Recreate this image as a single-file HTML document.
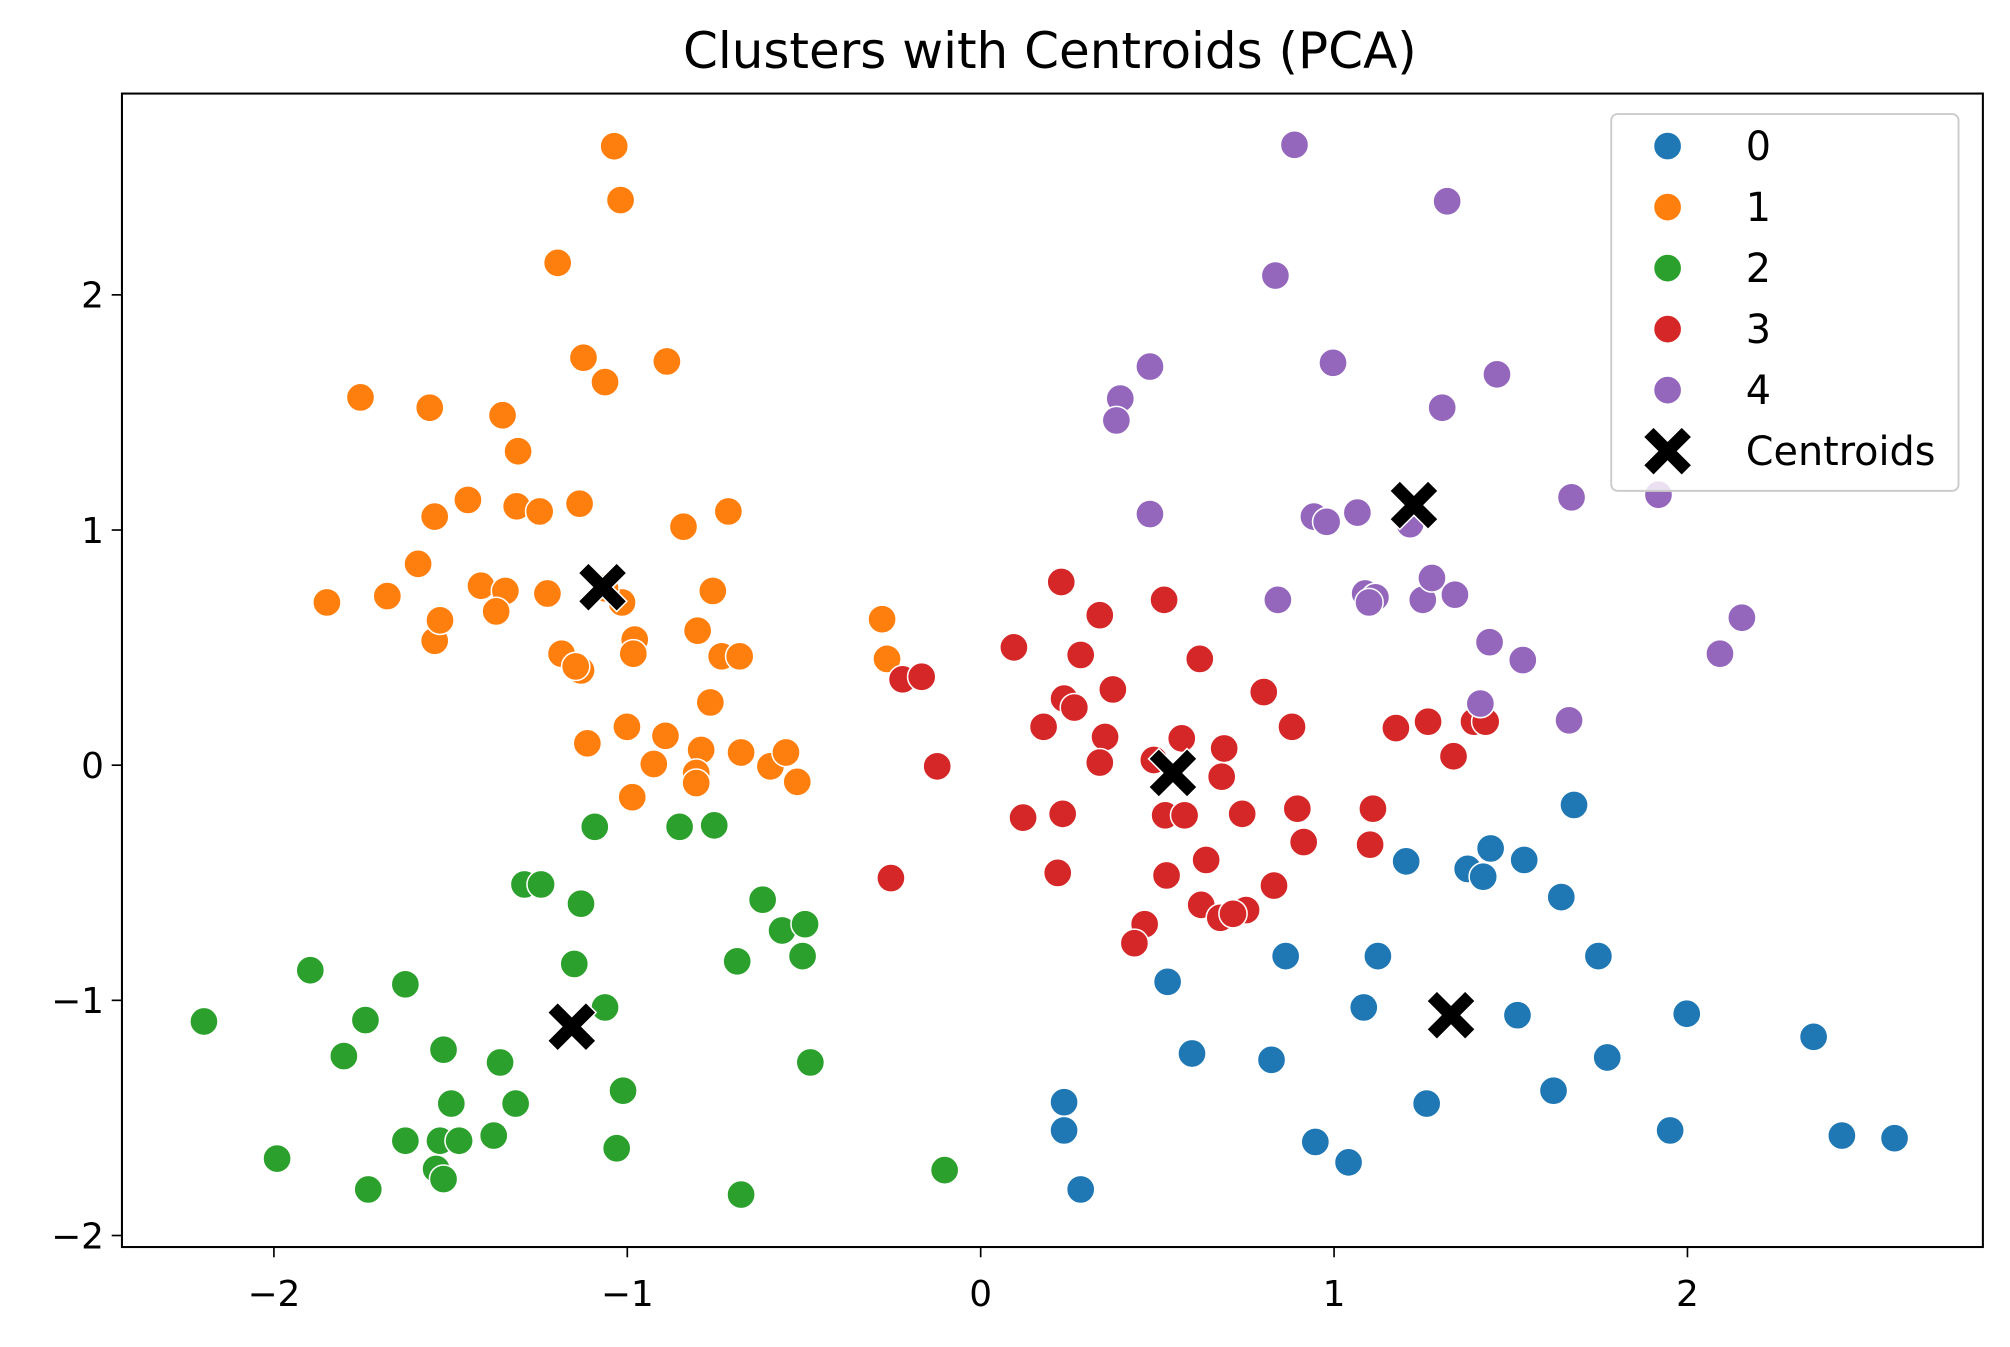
<!DOCTYPE html>
<html><head><meta charset="utf-8"><style>
html,body{margin:0;padding:0;background:#fff}
svg{display:block}
text{font-family:"DejaVu Sans","Liberation Sans",sans-serif;fill:#000}
</style></head><body>
<svg id="chart" width="2010" height="1347" viewBox="0 0 1568 1051" xmlns="http://www.w3.org/2000/svg">
<rect x="0" y="0" width="1568" height="1051" fill="#fff"/>
<text x="819" y="53" font-size="39" text-anchor="middle">Clusters with Centroids (PCA)</text>
<g id="marks"></g>
<g id="axes"></g>
<g id="legend"></g>
</svg>
<script>
const c0x=[1.679,1.204,1.378,1.422,1.443,1.538,1.643,1.748,1.124,0.863,0.529,1.084,1.519,1.998,2.357,0.598,0.823,1.773,0.236,1.262,1.621,0.236,0.947,1.041,1.951,2.437,2.586,0.283];
const c0y=[-0.169,-0.409,-0.441,-0.474,-0.354,-0.403,-0.561,-0.812,-0.812,-0.812,-0.921,-1.030,-1.063,-1.057,-1.155,-1.226,-1.253,-1.243,-1.433,-1.439,-1.384,-1.553,-1.602,-1.689,-1.553,-1.575,-1.586,-1.804];
const c1x=[-1.037,-1.019,-1.197,-1.124,-1.063,-0.888,-1.755,-1.559,-1.353,-1.309,-1.451,-1.545,-1.313,-1.248,-1.135,-0.714,-0.841,-1.592,-1.850,-1.679,-1.414,-1.345,-1.371,-1.226,-1.545,-1.530,-0.758,-1.015,-1.063,-0.801,-0.979,-0.983,-1.186,-1.131,-1.146,-0.733,-0.682,-0.765,-0.279,-0.265,-1.001,-0.892,-1.113,-0.925,-0.791,-0.805,-0.805,-0.678,-0.595,-0.551,-0.519,-0.986];
const c1y=[2.632,2.403,2.136,1.733,1.629,1.717,1.564,1.520,1.488,1.335,1.128,1.057,1.101,1.079,1.112,1.079,1.014,0.856,0.692,0.719,0.763,0.741,0.654,0.730,0.529,0.616,0.741,0.692,0.752,0.572,0.534,0.474,0.474,0.403,0.420,0.463,0.463,0.267,0.621,0.452,0.163,0.125,0.093,0.005,0.065,-0.033,-0.076,0.054,-0.005,0.054,-0.071,-0.136];
const c2x=[-1.092,-0.852,-0.754,-1.291,-1.244,-1.131,-0.617,-0.562,-0.497,-0.504,-0.689,-1.150,-1.063,-1.897,-1.628,-1.741,-2.198,-1.802,-1.520,-1.360,-0.482,-1.012,-1.498,-1.316,-1.378,-1.628,-1.530,-1.476,-1.541,-1.520,-1.991,-1.733,-1.030,-0.678,-0.102];
const c2y=[-0.262,-0.262,-0.256,-0.507,-0.507,-0.589,-0.572,-0.703,-0.676,-0.812,-0.834,-0.845,-1.030,-0.872,-0.932,-1.084,-1.090,-1.237,-1.210,-1.264,-1.264,-1.384,-1.439,-1.439,-1.575,-1.597,-1.597,-1.597,-1.717,-1.760,-1.673,-1.804,-1.629,-1.826,-1.722];
const c3x=[0.228,0.519,0.337,0.094,0.283,0.620,-0.221,-0.167,0.236,0.265,0.374,0.801,0.178,0.352,0.569,0.881,0.689,1.175,1.266,1.396,1.429,1.338,0.337,0.490,0.682,-0.123,0.522,0.577,0.232,0.120,0.896,0.740,1.110,1.102,0.914,0.638,-0.254,0.218,0.526,0.830,0.624,0.678,0.751,0.714,0.464,0.435];
const c3y=[0.779,0.703,0.638,0.501,0.469,0.452,0.365,0.376,0.283,0.245,0.322,0.311,0.163,0.120,0.114,0.163,0.071,0.158,0.185,0.185,0.185,0.038,0.011,0.022,-0.049,-0.005,-0.213,-0.213,-0.207,-0.223,-0.185,-0.207,-0.185,-0.338,-0.327,-0.403,-0.480,-0.458,-0.469,-0.512,-0.594,-0.649,-0.616,-0.632,-0.676,-0.757];
const c4x=[0.888,1.320,0.834,0.997,0.479,1.461,0.395,0.384,1.306,1.672,1.918,0.479,0.943,0.979,1.066,1.215,0.841,1.088,1.117,1.099,1.251,1.277,1.342,1.440,1.534,2.092,2.154,1.414,1.665];
const c4y=[2.638,2.398,2.082,1.711,1.695,1.662,1.559,1.466,1.520,1.139,1.150,1.068,1.057,1.035,1.074,1.025,0.703,0.730,0.714,0.692,0.703,0.796,0.725,0.523,0.447,0.474,0.627,0.262,0.191];
const centX=[-1.070,-1.157,0.544,1.226,1.331];
const centY=[0.757,-1.112,-0.033,1.106,-1.063];
const xTicks=[-2,-1,0,1,2];
const yTicks=[-2,-1,0,1,2];
const legendLabels=["0","1","2","3","4","Centroids"];
const colors=["#1f77b4","#ff7f0e","#2ca02c","#d62728","#9467bd"];

const NS="http://www.w3.org/2000/svg";
const L=95,R=1547,T=73,B=973,xmin=-2.430,xmax=2.836,ymin=-2.049,ymax=2.856;
const sx=v=>L+(v-xmin)/(xmax-xmin)*(R-L);
const sy=v=>B-(v-ymin)/(ymax-ymin)*(B-T);
function mk(tag,attrs,parent){const e=document.createElementNS(NS,tag);for(const k in attrs)e.setAttribute(k,attrs[k]);parent.appendChild(e);return e;}
const marks=document.getElementById('marks'),axes=document.getElementById('axes'),leg=document.getElementById('legend');
function xPath(cx,cy,s){const a=s*0.42,b=s;return `M${cx-b},${cy-b+a}L${cx-b+a},${cy-b}L${cx},${cy-a}L${cx+b-a},${cy-b}L${cx+b},${cy-b+a}L${cx+a},${cy}L${cx+b},${cy+b-a}L${cx+b-a},${cy+b}L${cx},${cy+a}L${cx-b+a},${cy+b}L${cx-b},${cy+b-a}L${cx-a},${cy}Z`;}
const clusters=[[c0x,c0y],[c1x,c1y],[c2x,c2y],[c3x,c3y],[c4x,c4y]];
clusters.forEach((c,ci)=>{
  c[0].forEach((xv,i)=>{
    const p=mk('circle',{cx:sx(xv),cy:sy(c[1][i]),r:11,fill:colors[ci],stroke:'#fff','stroke-width':1.2},marks);
    
    
  });
});
centX.forEach((xv,i)=>{
  const p=mk('path',{d:xPath(sx(xv),sy(centY[i]),19),fill:'#000',stroke:'#fff','stroke-width':1.2},marks);
  
  
});
const frame=mk('rect',{x:L,y:T,width:R-L,height:B-T,fill:'none',stroke:'#000','stroke-width':1.6},axes);


xTicks.forEach(t=>{
  const x=sx(t);
  mk('line',{x1:x,y1:B,x2:x,y2:B+8,stroke:'#000','stroke-width':1.3},axes);
  const tx=mk('text',{x:x,y:B+46,'font-size':28,'text-anchor':'middle'},axes);
  tx.textContent=t<0?'\u2212'+(-t):String(t);
  
  
});
yTicks.forEach(t=>{
  const y=sy(t);
  mk('line',{x1:L,y1:y,x2:L-8,y2:y,stroke:'#000','stroke-width':1.3},axes);
  const tx=mk('text',{x:L-14,y:y+10,'font-size':28,'text-anchor':'end'},axes);
  tx.textContent=t<0?'\u2212'+(-t):String(t);
  
  
});
mk('rect',{x:1257,y:89,width:271,height:294,rx:5,fill:'#fff','fill-opacity':0.8,stroke:'#ccc','stroke-width':1.5},leg);
legendLabels.forEach((lab,i)=>{
  const y=114+i*47.6;
  let m;
  if(i<5){m=mk('circle',{cx:1301,cy:y,r:11,fill:colors[i],stroke:'#fff','stroke-width':1.2},leg);}
  else{m=mk('path',{d:xPath(1301,y,19),fill:'#000',stroke:'#fff','stroke-width':1.2},leg);}
  
  
  const tx=mk('text',{x:1362,y:y+11,'font-size':31},leg);
  tx.textContent=lab;
  
  
});
</script>
</body></html>
